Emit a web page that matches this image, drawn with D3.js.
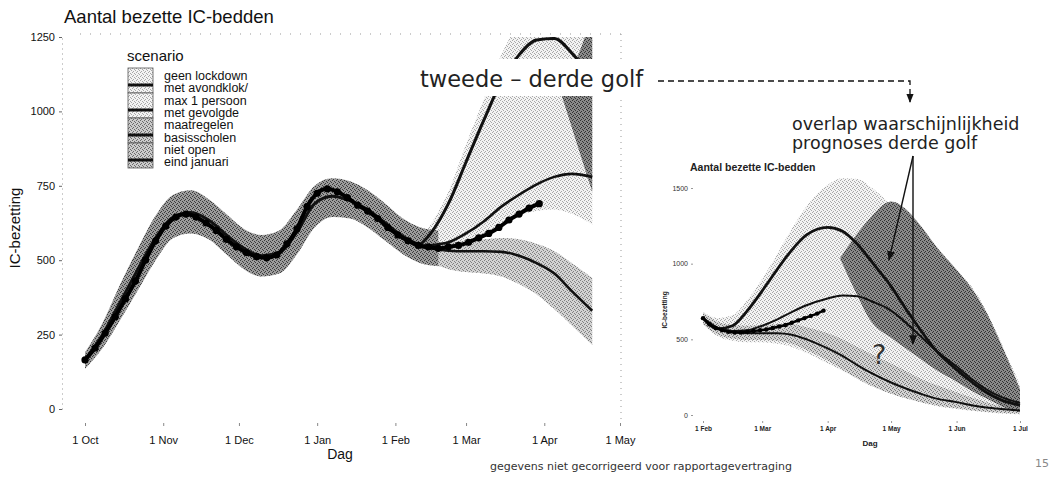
<!DOCTYPE html>
<html>
<head>
<meta charset="utf-8">
<script src="https://cdn.jsdelivr.net/npm/d3@7"></script>
<style>
body { margin: 0; background: #fff; }
svg { display: block; font-family: "Liberation Sans", Arial, sans-serif; }
</style>
</head>
<body>
<svg id="chart" width="1056" height="479"></svg>
<script>
// ---- main chart: observed IC occupancy ----
var obsDates = ['2020-10-01','2020-10-05','2020-10-09','2020-10-13','2020-10-17','2020-10-21','2020-10-25','2020-10-29',
	'2020-11-02','2020-11-06','2020-11-10','2020-11-14','2020-11-18','2020-11-22','2020-11-26','2020-11-30',
	'2020-12-04','2020-12-08','2020-12-12','2020-12-16','2020-12-20','2020-12-24','2020-12-28',
	'2021-01-01','2021-01-05','2021-01-09','2021-01-13','2021-01-17','2021-01-21','2021-01-25','2021-01-29',
	'2021-02-02','2021-02-06','2021-02-10','2021-02-14','2021-02-18','2021-02-22','2021-02-26',
	'2021-03-02','2021-03-06','2021-03-10','2021-03-14','2021-03-18','2021-03-22','2021-03-26','2021-03-30'];
var obsValues = [165,205,255,310,370,430,500,565,
	615,645,655,645,625,600,570,545,
	525,512,508,518,555,605,680,
	725,740,730,710,685,665,640,610,
	585,565,550,545,540,545,550,
	560,575,590,610,635,655,675,690];

// model fit until mid February
var fitDates = ['2020-10-01','2020-10-08','2020-10-15','2020-10-22','2020-10-29','2020-11-05','2020-11-12','2020-11-19',
	'2020-11-26','2020-12-03','2020-12-10','2020-12-17','2020-12-24','2020-12-31','2021-01-07','2021-01-14',
	'2021-01-21','2021-01-28','2021-02-04','2021-02-11','2021-02-18'];
var fitMid  = [165,250,360,470,575,645,660,635,585,540,515,525,595,690,715,700,670,625,580,550,540];
var fitLow  = [135,205,300,400,500,575,590,570,520,470,445,455,520,610,645,640,610,565,520,490,480];
var fitHigh = [190,290,420,540,650,720,735,705,655,605,585,600,670,750,775,765,735,690,640,610,600];

// scenarios from mid February
var scenDates = ['2021-02-10','2021-02-15','2021-02-22','2021-03-01','2021-03-08','2021-03-15','2021-03-22','2021-03-29','2021-04-05','2021-04-12','2021-04-20'];
var geenLockdown = [545,590,690,830,970,1100,1190,1240,1245,1195,1110];
var geenLow      = [530,540,560,590,625,665,705,745,775,790,790];
var geenHigh     = [560,620,730,890,1040,1190,1300,1380,1450,1450,1450];
var avondklok     = [545,550,560,590,630,680,720,755,780,790,780];
var avondklokLow  = [520,525,535,555,585,620,650,665,670,655,620];
var avondklokHigh = [560,580,620,680,740,810,870,920,950,960,960];
var gevolgd     = [545,540,532,530,530,528,515,490,455,395,330];
var gevolgdLow  = [500,490,470,460,455,445,420,385,335,280,215];
var gevolgdHigh = [560,560,560,565,570,575,570,555,530,490,440];
var scholenDates = ['2021-04-08','2021-04-14','2021-04-17','2021-04-20'];
var scholenLow   = [1050,890,810,730];
var scholenHigh  = [1070,1180,1250,1350];

var yTicks = [0,250,500,750,1000,1250];
var monthTicks = ['2020-10-01','2020-11-01','2020-12-01','2021-01-01','2021-02-01','2021-03-01','2021-04-01','2021-05-01'];
var legendLabels = [['geen lockdown'],['met avondklok/','max 1 persoon'],['met gevolgde','maatregelen'],['basisscholen','niet open','eind januari']];

// ---- inset chart: third wave ----
var inDates = ['2021-02-01','2021-02-08','2021-02-15','2021-02-22','2021-03-01','2021-03-08','2021-03-15','2021-03-22',
	'2021-04-01','2021-04-08','2021-04-15','2021-04-22','2021-05-01','2021-05-08','2021-05-15','2021-05-22',
	'2021-06-01','2021-06-08','2021-06-15','2021-06-22','2021-07-01'];
var inGeen    = [640,570,590,690,820,960,1090,1190,1240,1215,1130,1010,850,700,560,430,300,220,150,100,65];
var inAvond   = [640,575,555,560,590,630,680,725,770,790,785,750,690,610,520,430,320,240,170,120,80];
var inGevolgd = [640,575,550,540,540,540,530,500,440,390,330,275,215,175,140,110,85,65,50,40,30];
var inWideLow  = [600,520,490,480,480,470,450,410,340,290,240,190,140,110,85,60,40,28,18,10,5];
var inWideHigh = [680,640,660,760,900,1060,1230,1380,1520,1565,1560,1500,1380,1250,1130,1040,950,850,690,480,200];
var inGevLow   = [600,530,505,495,495,490,470,430,360,300,240,190,140,110,85,65,45,32,22,15,10];
var inGevHigh  = [680,615,595,590,595,600,600,580,540,500,450,400,340,290,240,200,150,115,85,60,45];
var inDarkDates = ['2021-04-07','2021-04-14','2021-04-21','2021-05-01','2021-05-08','2021-05-15','2021-05-22','2021-06-01','2021-06-08','2021-06-15','2021-06-22','2021-07-01'];
var inDarkLow   = [1030,820,630,510,440,370,300,220,160,110,60,20];
var inDarkHigh  = [1040,1180,1300,1410,1360,1250,1120,960,840,680,470,170];
var inObsDates = ['2021-02-01','2021-02-04','2021-02-07','2021-02-10','2021-02-13','2021-02-16','2021-02-19','2021-02-22','2021-02-25','2021-02-28',
	'2021-03-03','2021-03-06','2021-03-09','2021-03-12','2021-03-15','2021-03-18','2021-03-21','2021-03-24','2021-03-27','2021-03-30'];
var inObsValues = [640,600,575,560,550,545,545,550,555,560,565,575,585,595,610,625,640,655,670,690];
var inYTicks = [0,500,1000,1500];
var inMonthTicks = ['2021-02-01','2021-03-01','2021-04-01','2021-05-01','2021-06-01','2021-07-01'];

var parse = d3.timeParse('%Y-%m-%d');
var svg = d3.select('#chart');
var defs = svg.append('defs');

function rows(dates, cols)
{
	return dates.map(function(d, i) {
		var r = { date: parse(d) };
		for (var k in cols) r[k] = cols[k][i];
		return r;
	});
}

// speckled fills, like the scanned print
function stipple(id, bg, dot)
{
	var p = defs.append('pattern').attr('id', id)
		.attr('patternUnits', 'userSpaceOnUse').attr('width', 4).attr('height', 4);
	p.append('rect').attr('width', 4).attr('height', 4).attr('fill', bg);
	[[0,0],[2,1],[1,3],[3,2]].forEach(function(c) {
		p.append('rect').attr('x', c[0]).attr('y', c[1]).attr('width', 1).attr('height', 1).attr('fill', dot);
	});
}
stipple('stipLight', '#f3f3f3', '#a8a8a8');
stipple('stipMid', '#cbcbcb', '#6a6a6a');
stipple('stipFit', '#9c9c9c', '#3c3c3c');
stipple('stipDark', '#8a8a8a', '#333');

defs.append('marker').attr('id', 'arrow').attr('viewBox', '0 0 10 10')
	.attr('refX', 9).attr('refY', 5).attr('markerWidth', 7).attr('markerHeight', 7)
	.attr('orient', 'auto-start-reverse')
	.append('path').attr('d', 'M0,1L10,5L0,9z').attr('fill', '#111');

defs.append('clipPath').attr('id', 'mainClip')
	.append('rect').attr('x', 63).attr('y', 37).attr('width', 560).attr('height', 385);

function band(xs, ys, lo, hi)
{
	return d3.area().curve(d3.curveMonotoneX)
		.x(function(d) { return xs(d.date); })
		.y0(function(d) { return ys(d[lo]); })
		.y1(function(d) { return ys(d[hi]); });
}
function curve(xs, ys, key)
{
	return d3.line().curve(d3.curveMonotoneX)
		.x(function(d) { return xs(d.date); })
		.y(function(d) { return ys(d[key]); });
}

// ================= main chart =================
var x = d3.scaleTime().domain([parse('2020-10-01'), parse('2021-05-01')]).range([85, 620]);
var y = d3.scaleLinear().domain([0, 1250]).range([409, 37]);
var main = svg.append('g');

main.append('text').attr('x', 64).attr('y', 23).attr('font-size', 18.5).attr('fill', '#111')
	.text('Aantal bezette IC-bedden');

// faint grid remains
main.append('line').attr('x1', 80).attr('x2', 622).attr('y1', 34).attr('y2', 34)
	.attr('stroke', '#999').attr('stroke-dasharray', '1,9');
main.append('line').attr('x1', 621).attr('x2', 621).attr('y1', 34).attr('y2', 424)
	.attr('stroke', '#999').attr('stroke-dasharray', '1,5');

var yAxis = main.append('g').attr('transform', 'translate(62,0)')
	.call(d3.axisLeft(y).tickValues(yTicks).tickFormat(d3.format('d')).tickSize(3).tickSizeOuter(0).tickPadding(4));
yAxis.attr('font-size', 11).attr('font-family', null);
yAxis.select('.domain').attr('stroke', '#999').attr('stroke-dasharray', '1,4');
yAxis.selectAll('.tick line').attr('stroke', '#666');
yAxis.selectAll('text').attr('fill', '#111');

var xAxis = main.append('g').attr('transform', 'translate(0,423)')
	.call(d3.axisBottom(x).tickValues(monthTicks.map(parse)).tickFormat(d3.timeFormat('1 %b')).tickSize(3).tickPadding(10));
xAxis.attr('font-size', 11).attr('font-family', null);
xAxis.select('.domain').remove();
xAxis.selectAll('.tick line').attr('stroke', '#888');
xAxis.selectAll('text').attr('fill', '#111');

main.append('text').attr('x', 340).attr('y', 459).attr('text-anchor', 'middle')
	.attr('font-size', 14).attr('fill', '#111').text('Dag');
main.append('text').attr('transform', 'translate(20,228) rotate(-90)').attr('text-anchor', 'middle')
	.attr('font-size', 15).attr('fill', '#111').text('IC-bezetting');

var plot = main.append('g').attr('clip-path', 'url(#mainClip)');
var fitRows = rows(fitDates, { mid: fitMid, lo: fitLow, hi: fitHigh });
var scenRows = rows(scenDates, {
	geen: geenLockdown, geenLo: geenLow, geenHi: geenHigh,
	avond: avondklok, avondLo: avondklokLow, avondHi: avondklokHigh,
	gev: gevolgd, gevLo: gevolgdLow, gevHi: gevolgdHigh
});
var scholenRows = rows(scholenDates, { lo: scholenLow, hi: scholenHigh });
var obsRows = rows(obsDates, { v: obsValues });

plot.append('path').datum(scenRows).attr('d', band(x, y, 'geenLo', 'geenHi')).attr('fill', 'url(#stipLight)');
plot.append('path').datum(scenRows).attr('d', band(x, y, 'avondLo', 'avondHi')).attr('fill', 'url(#stipLight)');
plot.append('path').datum(scenRows).attr('d', band(x, y, 'gevLo', 'gevHi')).attr('fill', 'url(#stipMid)').attr('opacity', 0.85);
plot.append('path').datum(scholenRows).attr('d', band(x, y, 'lo', 'hi')).attr('fill', 'url(#stipDark)');
plot.append('path').datum(fitRows).attr('d', band(x, y, 'lo', 'hi')).attr('fill', 'url(#stipFit)');

['geen', 'avond', 'gev'].forEach(function(k) {
	plot.append('path').datum(scenRows).attr('d', curve(x, y, k))
		.attr('fill', 'none').attr('stroke', '#111').attr('stroke-width', k == 'geen' ? 3 : 2.6);
});
plot.append('path').datum(fitRows).attr('d', curve(x, y, 'mid'))
	.attr('fill', 'none').attr('stroke', '#111').attr('stroke-width', 3);
plot.append('path').datum(obsRows).attr('d', curve(x, y, 'v'))
	.attr('fill', 'none').attr('stroke', '#000').attr('stroke-width', 4);
plot.selectAll('circle.obs').data(obsRows).enter().append('circle').attr('class', 'obs')
	.attr('cx', function(d) { return x(d.date); }).attr('cy', function(d) { return y(d.v); })
	.attr('r', 3.6).attr('fill', '#000');

// legend
var leg = main.append('g');
leg.append('text').attr('x', 127).attr('y', 61).attr('font-size', 15).attr('fill', '#111').text('scenario');
var lineNo = 0;
legendLabels.forEach(function(lines, i) {
	var top = 68 + i * 25;
	leg.append('rect').attr('x', 128).attr('y', top).attr('width', 25).attr('height', 25)
		.attr('fill', i < 2 ? 'url(#stipLight)' : 'url(#stipMid)').attr('stroke', '#555').attr('stroke-width', 0.8);
	leg.append('line').attr('x1', 128).attr('x2', 153).attr('y1', top + 17).attr('y2', top + 17)
		.attr('stroke', '#111').attr('stroke-width', 3);
	lines.forEach(function(t) {
		leg.append('text').attr('x', 164).attr('y', 80 + lineNo * 12.3)
			.attr('font-size', 12.5).attr('fill', '#111').text(t);
		lineNo++;
	});
});

// ================= inset chart =================
var xi = d3.scaleTime().domain([parse('2021-02-01'), parse('2021-07-01')]).range([703, 1020]);
var yi = d3.scaleLinear().domain([0, 1500]).range([415, 188]);
var inset = svg.append('g');

inset.append('text').attr('x', 690).attr('y', 171).attr('font-size', 10.5).attr('font-weight', 'bold')
	.attr('fill', '#222').text('Aantal bezette IC-bedden');

var iyAxis = inset.append('g').attr('transform', 'translate(693,0)')
	.call(d3.axisLeft(yi).tickValues(inYTicks).tickFormat(d3.format('d')).tickSize(2).tickSizeOuter(0).tickPadding(3));
iyAxis.attr('font-size', 7).attr('font-family', null);
iyAxis.select('.domain').remove();
iyAxis.selectAll('.tick line').attr('stroke', '#999');
iyAxis.selectAll('text').attr('fill', '#333');

var ixAxis = inset.append('g').attr('transform', 'translate(0,421)')
	.call(d3.axisBottom(xi).tickValues(inMonthTicks.map(parse)).tickFormat(d3.timeFormat('1 %b')).tickSize(2).tickPadding(3));
ixAxis.attr('font-size', 6.5).attr('font-family', null);
ixAxis.select('.domain').remove();
ixAxis.selectAll('.tick line').attr('stroke', '#999');
ixAxis.selectAll('text').attr('fill', '#222').attr('font-weight', 'bold');

inset.append('text').attr('x', 870).attr('y', 446).attr('text-anchor', 'middle')
	.attr('font-size', 8).attr('font-weight', 'bold').attr('fill', '#222').text('Dag');
inset.append('text').attr('transform', 'translate(667,310) rotate(-90)').attr('text-anchor', 'middle')
	.attr('font-size', 6.5).attr('font-weight', 'bold').attr('fill', '#222').text('IC-bezetting');

var inRows = rows(inDates, {
	geen: inGeen, avond: inAvond, gev: inGevolgd,
	wLo: inWideLow, wHi: inWideHigh, gLo: inGevLow, gHi: inGevHigh
});
var inDarkRows = rows(inDarkDates, { lo: inDarkLow, hi: inDarkHigh });
var inObsRows = rows(inObsDates, { v: inObsValues });

inset.append('path').datum(inRows).attr('d', band(xi, yi, 'wLo', 'wHi')).attr('fill', 'url(#stipLight)');
inset.append('path').datum(inRows).attr('d', band(xi, yi, 'gLo', 'gHi')).attr('fill', 'url(#stipMid)').attr('opacity', 0.8);
inset.append('path').datum(inDarkRows).attr('d', band(xi, yi, 'lo', 'hi')).attr('fill', 'url(#stipDark)');
['geen', 'avond', 'gev'].forEach(function(k) {
	inset.append('path').datum(inRows).attr('d', curve(xi, yi, k))
		.attr('fill', 'none').attr('stroke', '#111').attr('stroke-width', k == 'geen' ? 2.8 : 2);
});
inset.append('path').datum(inObsRows).attr('d', curve(xi, yi, 'v'))
	.attr('fill', 'none').attr('stroke', '#000').attr('stroke-width', 2.5);
inset.selectAll('circle.obs').data(inObsRows).enter().append('circle').attr('class', 'obs')
	.attr('cx', function(d) { return xi(d.date); }).attr('cy', function(d) { return yi(d.v); })
	.attr('r', 2.2).attr('fill', '#000');

// ================= annotations =================
var notes = svg.append('g').attr('font-family', '"DejaVu Sans", Verdana, sans-serif');
notes.append('rect').attr('x', 405).attr('y', 59).attr('width', 245).attr('height', 37).attr('fill', '#fff');
notes.append('text').attr('x', 420).attr('y', 87).attr('font-size', 22.5).attr('fill', '#222')
	.text('tweede \u2013 derde golf');
notes.append('path').attr('d', 'M658,81H910V102').attr('fill', 'none').attr('stroke', '#111')
	.attr('stroke-width', 1.3).attr('stroke-dasharray', '6,4').attr('marker-end', 'url(#arrow)');

notes.append('text').attr('x', 792).attr('y', 130).attr('font-size', 17.5).attr('fill', '#222')
	.text('overlap waarschijnlijkheid');
notes.append('text').attr('x', 792).attr('y', 149).attr('font-size', 17.5).attr('fill', '#222')
	.text('prognoses derde golf');
notes.append('line').attr('x1', 913).attr('y1', 156).attr('x2', 889).attr('y2', 260)
	.attr('stroke', '#111').attr('stroke-width', 1.4).attr('marker-end', 'url(#arrow)');
notes.append('line').attr('x1', 913).attr('y1', 156).attr('x2', 913).attr('y2', 344)
	.attr('stroke', '#111').attr('stroke-width', 1.4).attr('marker-end', 'url(#arrow)');
notes.append('text').attr('x', 872).attr('y', 364).attr('font-size', 27).attr('fill', '#333').text('?');

notes.append('text').attr('x', 490).attr('y', 470).attr('font-size', 11).attr('fill', '#333')
	.text('gegevens niet gecorrigeerd voor rapportagevertraging');
notes.append('text').attr('x', 1035).attr('y', 467).attr('font-size', 11).attr('fill', '#888').text('15');
</script>
</body>
</html>
